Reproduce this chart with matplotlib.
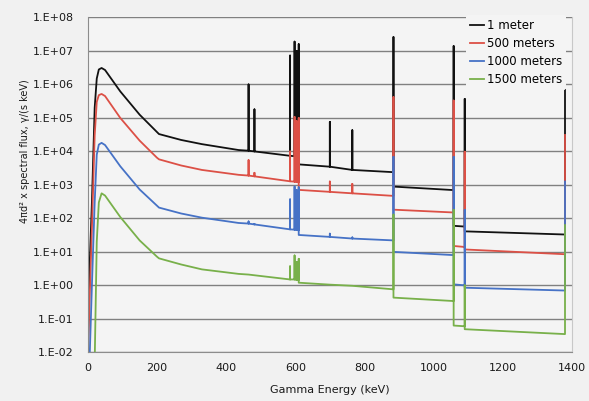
import math
import matplotlib
matplotlib.use("Agg")
import matplotlib.pyplot as plt
from matplotlib.ticker import FixedLocator, FuncFormatter

# energies (keV); each gamma line appears three times: base, top, base after
energy = [0, 5, 12, 20, 26, 32, 40, 50, 94, 150, 200, 206, 270, 330, 436,
          465, 465, 465, 482, 482, 482, 585, 585, 585, 598, 598, 598,
          604, 604, 604, 610, 610, 610, 700, 700, 700, 765, 765, 765,
          884, 884, 884, 1058, 1058, 1058, 1090, 1090, 1090, 1380, 1380]

flux_1m = [0.01, 3, 300, 2e5, 1.5e6, 2.8e6, 3.1e6, 2.7e6, 6.2e5, 1.25e5, 3.8e4, 3.3e4, 2.2e4, 1.65e4, 1.1e4,
           1.05e4, 1e6, 1.05e4, 1.0e4, 1.8e5, 1.0e4, 7.4e3, 7.3e6, 7.4e3, 7.2e3, 1.9e7, 7.2e3,
           7.0e3, 1.0e7, 7.0e3, 6.9e3, 1.6e7, 4.1e3, 3.5e3, 7.6e4, 3.5e3, 2.8e3, 4.3e4, 2.8e3,
           2.4e3, 2.6e7, 890, 700, 1.4e7, 60, 57, 3.7e5, 41, 33, 6.9e5]

flux_500m = [0.005, 0.3, 50, 3e4, 3e5, 4.8e5, 5.2e5, 4.5e5, 1.0e5, 2.1e4, 6.5e3, 5.8e3, 3.8e3, 2.8e3, 2.0e3,
             1.9e3, 5.5e3, 1.9e3, 1.8e3, 2.3e3, 1.8e3, 1.28e3, 1.0e4, 1.28e3, 1.25e3, 1.07e5, 1.25e3,
             1.22e3, 8e4, 1.22e3, 1.2e3, 1.0e5, 710, 620, 1.26e3, 620, 560, 1.07e3, 560,
             470, 4.2e5, 182, 150, 3.3e5, 15, 14, 9.8e3, 11.8, 8.5, 3.1e4]

flux_1000m = [1e-4, 0.005, 1, 300, 8e3, 1.6e4, 1.8e4, 1.55e4, 3.6e3, 730, 240, 210, 140, 105, 73,
              70, 81, 70, 66, 68, 66, 47, 370, 47, 46, 890, 46,
              45, 700, 45, 44, 850, 32, 28, 35, 28, 25, 27, 25,
              22, 6.9e3, 10, 8, 6.9e3, 1.07, 1.0, 180, 0.85, 0.7, 1.26e3]

flux_1500m = [1e-6, 1e-5, 1e-4, 0.005, 20, 300, 560, 480, 110, 22, 7.2, 6.4, 4.2, 3.0, 2.2,
              2.1, 2.1, 2.1, 2.0, 2.0, 2.0, 1.5, 3.7, 1.5, 1.5, 7.8, 1.5,
              1.45, 5.0, 1.45, 1.45, 6.2, 1.2, 1.05, 1.05, 1.05, 0.97, 0.97, 0.97,
              0.76, 130, 0.43, 0.34, 180, 0.063, 0.06, 1.0, 0.049, 0.035, 63]

labels = ["1 meter", "500 meters", "1000 meters", "1500 meters"]
colors = ["#111111", "#dc5046", "#4672c6", "#78b04a"]

fig = plt.figure(figsize=(5.89, 4.01), dpi=100, facecolor="#f1f1f1")
ax = fig.add_axes([0.149, 0.1214, 0.822, 0.835], facecolor="#f4f4f4")

for vals, lab, col in zip([flux_1m, flux_500m, flux_1000m, flux_1500m], labels, colors):
    ax.plot(energy, vals, color=col, lw=1.3, label=lab)

ax.set_yscale("log")
ax.set_xlim(0, 1400)
ax.set_ylim(1e-2, 1e8)
ax.xaxis.set_major_locator(FixedLocator(range(0, 1401, 200)))
ax.yaxis.set_major_locator(FixedLocator([10.0 ** e for e in range(-2, 9)]))
ax.yaxis.set_minor_locator(FixedLocator([]))
ax.yaxis.set_major_formatter(FuncFormatter(lambda v, p: "1.E%+03d" % round(math.log10(v))))

ax.grid(axis="y", color="#808080", lw=1.0)
ax.set_axisbelow(True)
ax.tick_params(length=0, labelsize=8, colors="#1a1a1a")
ax.tick_params(axis="y", pad=10)
ax.tick_params(axis="x", pad=8)
for side in ["left", "bottom"]:
    ax.spines[side].set_color("#8c8c8c")
ax.spines["right"].set_color("#c8c8c8")
ax.spines["top"].set_visible(False)

ax.set_xlabel("Gamma Energy (keV)", fontsize=8, color="#1a1a1a", labelpad=8)
ax.set_ylabel("4πd² x spectral flux, γ/(s keV)", fontsize=7, color="#1a1a1a")
ax.yaxis.set_label_coords(-0.12, 0.6)

leg = ax.legend(loc="upper right", bbox_to_anchor=(1.0, 1.026), fontsize=8.5, frameon=True,
                handlelength=1.2, handletextpad=0.2, labelspacing=0.42, borderpad=0.35)
leg.get_frame().set_facecolor("#f4f4f4")
leg.get_frame().set_edgecolor("none")
leg.get_frame().set_alpha(1)

fig.savefig("out.png", dpi=100, facecolor=fig.get_facecolor())
